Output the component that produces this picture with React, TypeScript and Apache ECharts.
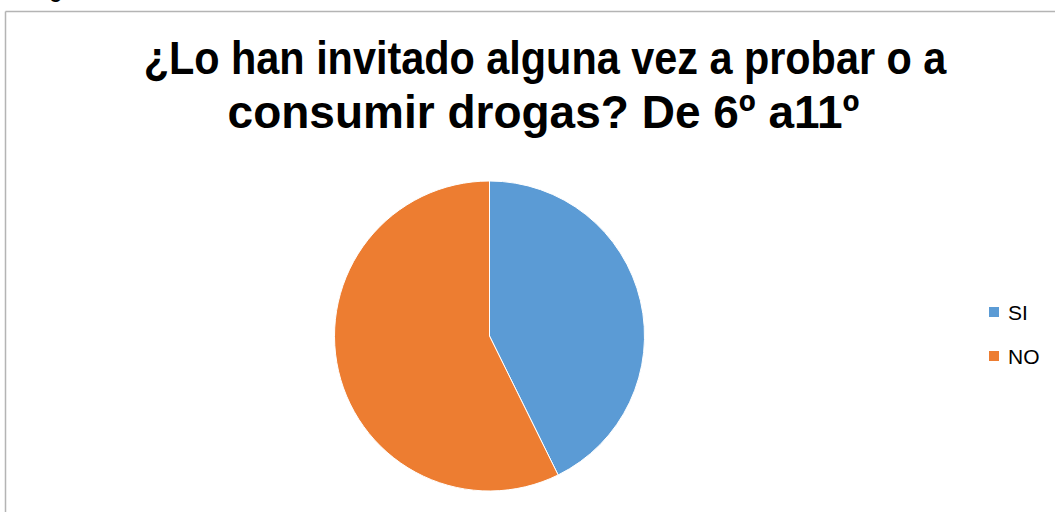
import React, { useEffect, useRef } from "react";
import * as echarts from "echarts";

const categories = ["SI", "NO"];
const values = [42.7, 57.3];
const colors = ["#5B9BD5", "#ED7D31"];
const titleLines = ["¿Lo han invitado alguna vez a probar o a", "consumir drogas? De 6º a11º"];

export default function App() {
  const ref = useRef<HTMLDivElement>(null);
  useEffect(() => {
    if (!ref.current) return;
    const chart = echarts.init(ref.current, null, { renderer: "svg" });
    const titleStyle = {
      align: "center",
      verticalAlign: "middle",
      fontFamily: "Liberation Sans",
      fontWeight: "bold",
      fontSize: 46,
      fill: "#000",
    };
    chart.setOption({
      animation: false,
      backgroundColor: "#ffffff",
      color: colors,
      legend: {
        orient: "vertical",
        left: 987,
        top: 301,
        padding: 0,
        itemWidth: 12,
        itemHeight: 12,
        itemGap: 22,
        icon: "rect",
        data: categories,
        textStyle: {
          fontFamily: "Liberation Sans",
          fontSize: 21,
          lineHeight: 22,
          color: "#000",
          padding: [0, 0, 0, 3],
        },
      },
      graphic: [
        { type: "line", shape: { x1: 5.5, y1: 11.5, x2: 1060, y2: 11.5 }, style: { stroke: "#b4b4b4", lineWidth: 1.5 } },
        { type: "line", shape: { x1: 5.5, y1: 11.5, x2: 5.5, y2: 520 }, style: { stroke: "#b4b4b4", lineWidth: 1.5 } },
        {
          type: "text",
          x: 32,
          y: -9,
          style: { text: "Figura", fontFamily: "Liberation Sans", fontWeight: "bold", fontSize: 20, fill: "#000", verticalAlign: "middle" },
        },
        { type: "text", x: 545, y: 58, scaleX: 0.9, style: { ...titleStyle, text: titleLines[0] } },
        { type: "text", x: 543.5, y: 112, scaleX: 1.0, style: { ...titleStyle, text: titleLines[1] } },
      ],
      series: [
        {
          type: "pie",
          center: [489.5, 336],
          radius: 155,
          startAngle: 90,
          clockwise: true,
          label: { show: false },
          labelLine: { show: false },
          itemStyle: { borderColor: "#ffffff", borderWidth: 1 },
          emphasis: { disabled: true },
          data: categories.map((c, i) => ({ name: c, value: values[i] })),
        },
      ],
    });
    return () => chart.dispose();
  }, []);
  return <div ref={ref} style={{ position: "absolute", left: 0, top: 0, width: 1055, height: 512 }} />;
}
